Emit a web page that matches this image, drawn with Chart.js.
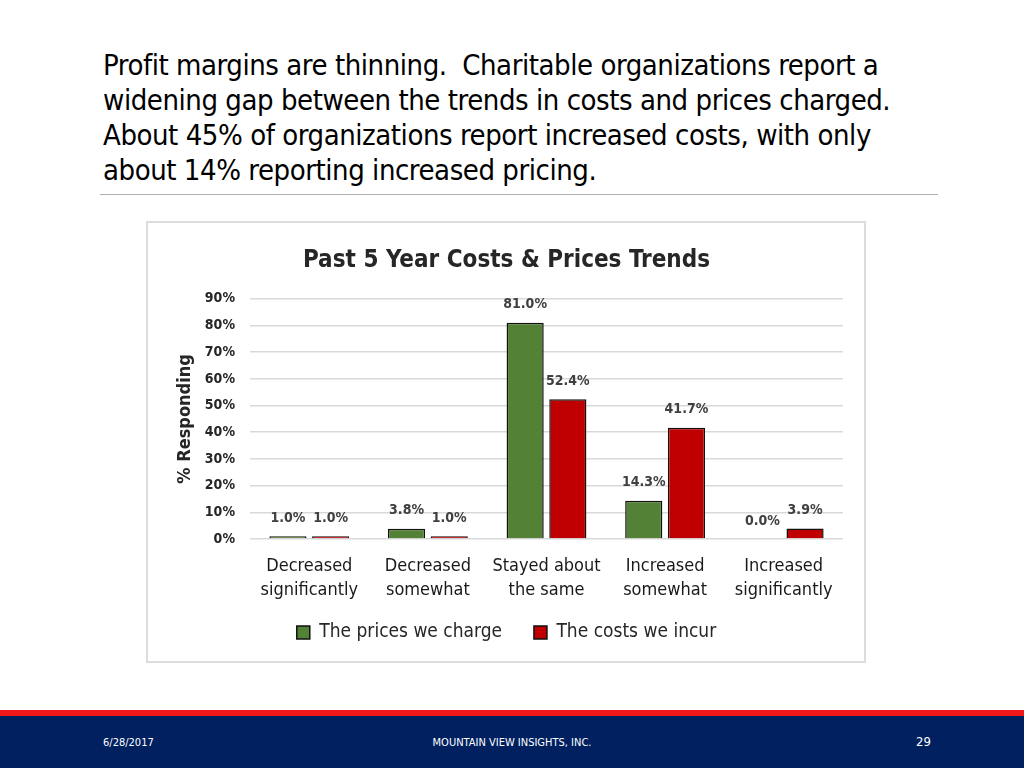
<!DOCTYPE html>
<html>
<head>
<meta charset="utf-8">
<script src="https://cdn.jsdelivr.net/npm/chart.js@4.4.1/dist/chart.umd.min.js"></script>
<style>
  html, body { margin: 0; padding: 0; background: #fff; }
  body { width: 1024px; height: 768px; position: relative; overflow: hidden; font-family: "Liberation Sans Narrow", "DejaVu Sans Condensed", sans-serif; }
  #heading {
    position: absolute; left: 103px; top: 48px; width: 840px;
    font-size: 29px; line-height: 35px; color: #000; letter-spacing: -0.45px;
  }
  #rule { position: absolute; left: 100px; top: 194px; width: 838px; height: 1px; background: #b0b0b0; }
  #box {
    position: absolute; left: 146px; top: 221px; width: 716px; height: 438px;
    border: 2px solid #dcdcdc; background: #fff;
  }
  #redline { position: absolute; left: 0; top: 710px; width: 1024px; height: 6px; background: #f01818; }
  #footer { position: absolute; left: 0; top: 716px; width: 1024px; height: 52px; background: #002060; color: #fff; }
  .ft { position: absolute; top: 20px; font-size: 11px; }
</style>
</head>
<body>
<div id="heading">Profit margins are thinning.&nbsp; Charitable organizations report a widening gap between the trends in costs and prices charged. About 45% of organizations report increased costs, with only about 14% reporting increased pricing.</div>
<div id="rule"></div>
<div id="box"><canvas id="chart" width="716" height="438"></canvas></div>
<div id="redline"></div>
<div id="footer">
  <div class="ft" style="left:103px;">6/28/2017</div>
  <div class="ft" style="left:0;width:1024px;text-align:center;">MOUNTAIN VIEW INSIGHTS, INC.</div>
  <div class="ft" style="left:916px;font-size:13px;top:18px;">29</div>
</div>
<script>
const categories = [
  ["Decreased", "significantly"],
  ["Decreased", "somewhat"],
  ["Stayed about", "the same"],
  ["Increased", "somewhat"],
  ["Increased", "significantly"]
];
const pricesWeCharge = [1.0, 3.8, 81.0, 14.3, 0.0];
const costsWeIncur = [1.0, 1.0, 52.4, 41.7, 3.9];
const yTicks = [0, 10, 20, 30, 40, 50, 60, 70, 80, 90];

const chartFont = "Liberation Sans Narrow, DejaVu Sans Condensed, sans-serif";

// labels above each bar
const valueLabels = {
  id: "valueLabels",
  afterDatasetsDraw(chart) {
    const ctx = chart.ctx;
    ctx.save();
    ctx.font = "bold 14px " + chartFont;
    ctx.fillStyle = "#404040";
    ctx.textAlign = "center";
    ctx.textBaseline = "middle";
    chart.data.datasets.forEach((ds, i) => {
      const meta = chart.getDatasetMeta(i);
      meta.data.forEach((bar, j) => {
        ctx.fillText(ds.data[j].toFixed(1) + "%", bar.x, bar.y - 18);
      });
    });
    ctx.restore();
  }
};

new Chart(document.getElementById("chart"), {
  type: "bar",
  data: {
    labels: categories,
    datasets: [
      {
        label: "The prices we charge",
        data: pricesWeCharge,
        backgroundColor: "#538135",
        borderColor: "#111",
        borderWidth: ctx => (ctx.raw === 0 ? 0 : 1.5),
        borderSkipped: "bottom"
      },
      {
        label: "The costs we incur",
        data: costsWeIncur,
        backgroundColor: "#c00000",
        borderColor: "#111",
        borderWidth: 1.5,
        borderSkipped: "bottom"
      }
    ]
  },
  options: {
    responsive: false,
    animation: false,
    events: [],
    categoryPercentage: 0.72,
    barPercentage: 0.87,
    layout: { padding: { left: 22, right: 21, top: 14, bottom: 9 } },
    plugins: {
      title: {
        display: true,
        text: "Past 5 Year Costs & Prices Trends",
        color: "#262626",
        font: { family: chartFont, size: 24, weight: "bold" },
        padding: { top: 9, bottom: 24 }
      },
      legend: {
        position: "bottom",
        labels: {
          color: "#262626",
          font: { family: chartFont, size: 19 },
          boxWidth: 13,
          boxHeight: 13,
          padding: 21,
          useBorderRadius: false,
          // a little extra room between the two entries
          generateLabels: chart => {
            const items = Chart.defaults.plugins.legend.labels.generateLabels(chart);
            items[0].text += "  ";
            return items;
          }
        }
      },
      tooltip: { enabled: false }
    },
    scales: {
      x: {
        grid: { display: false },
        border: { display: false },
        afterFit: scale => { scale.height = 63; },
        ticks: {
          color: "#1a1a1a",
          font: { family: chartFont, size: 18, lineHeight: 1.33 },
          maxRotation: 0,
          autoSkip: false,
          padding: 7
        }
      },
      y: {
        min: 0,
        max: 90,
        afterBuildTicks: axis => { axis.ticks = yTicks.map(v => ({ value: v })); },
        afterFit: scale => { scale.width = 80; },
        grid: { color: "#d9d9d9", lineWidth: 1.5, drawTicks: false },
        border: { display: false },
        title: {
          display: true,
          text: "% Responding",
          color: "#262626",
          font: { family: chartFont, size: 18, weight: "bold" },
          padding: { top: 5, bottom: 8 }
        },
        ticks: {
          color: "#262626",
          font: { family: chartFont, size: 14, weight: "bold" },
          padding: 15,
          callback: v => v + "%"
        }
      }
    }
  },
  plugins: [valueLabels]
});
</script>
</body>
</html>
